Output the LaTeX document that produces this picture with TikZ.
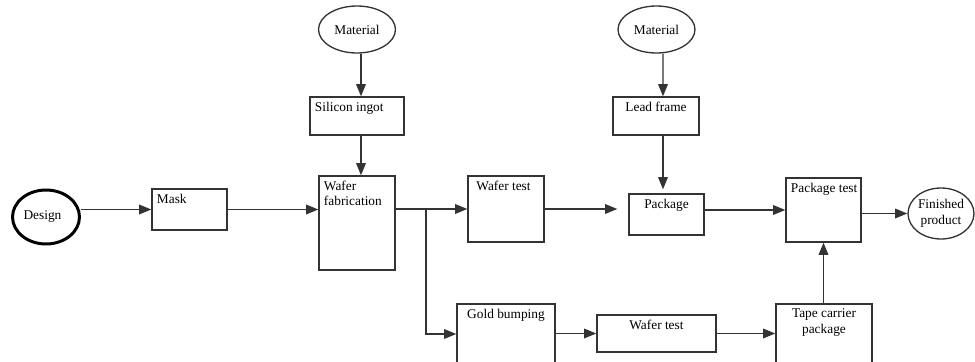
\documentclass[tikz,border=0pt]{standalone}
\usepackage{fontspec}
\setmainfont{Liberation Serif}
\usetikzlibrary{shapes.geometric,arrows.meta}

\tikzset{
    box/.style={draw=black!80, line width=0.75pt, rectangle, inner sep=0pt},
    oval/.style={draw=black!80, line width=0.75pt, ellipse, inner sep=0pt, align=center},
    tl/.style={label={[anchor=north west, align=left, inner sep=3pt]north west:#1}},
    tc/.style={label={[anchor=north, align=center, inner sep=3pt]north:#1}},
    arr/.style={draw=black!80, line width=0.8pt, -{Triangle[length=7pt,width=5.5pt]}},
    wire/.style={draw=black!80, line width=0.8pt}
}

\begin{document}
\begin{tikzpicture}[x=0.02cm, y=-0.02cm, font=\fontsize{7.6}{8.8}\selectfont]
    \useasboundingbox (0,0) rectangle (975,362);

    \node[oval, draw=black, line width=1.7pt, minimum width=1.34cm, minimum height=1.08cm] (design) at (46,217) {Design\hspace{4pt}};
    \node[oval, minimum width=1.54cm, minimum height=0.94cm] (mat1) at (357,29.5) {Material};
    \node[oval, minimum width=1.54cm, minimum height=0.94cm] (mat2) at (656.5,29.5) {Material};
    \node[oval, minimum width=1.32cm, minimum height=1.02cm] (fin) at (941,213.5) {Finished\\product};

    \node[box, minimum width=1.88cm, minimum height=0.76cm, tl={Silicon ingot}] (silicon) at (357,116) {};
    \node[box, minimum width=1.5cm, minimum height=0.82cm, tl={Mask}] (mask) at (189.5,209.5) {};
    \node[box, minimum width=1.52cm, minimum height=1.88cm, tl={Wafer\\fabrication}] (fab) at (357,223) {};
    \node[box, minimum width=1.52cm, minimum height=1.32cm, tl={\hspace{2pt}Wafer test}] (wtest) at (506,209) {};
    \node[box, minimum width=1.72cm, minimum height=0.76cm, tc={Lead frame}] (lead) at (656,116) {};
    \node[box, minimum width=1.5cm, minimum height=0.82cm, tc={Package}] (pkg) at (666.5,214.5) {};
    \node[box, minimum width=1.5cm, minimum height=1.28cm, tl={Package test}] (ptest) at (823.5,210) {};
    \node[box, minimum width=1.96cm, minimum height=1.2cm, tc={Gold bumping}] (gold) at (506,334) {};
    \node[box, minimum width=2.38cm, minimum height=0.74cm, tc={Wafer test}] (wtest2) at (656.5,333.5) {};
    \node[box, minimum width=1.92cm, minimum height=1.2cm, tc={Tape carrier\\package}] (tape) at (824,334) {};

    \coordinate (split) at (426,209);

    \draw[arr] ([xshift=0.08cm]mat1.south) -- ([xshift=0.08cm]silicon.north);
    \draw[arr] ([xshift=0.08cm]silicon.south) -- ([xshift=0.08cm]fab.north);
    \draw[arr] ([xshift=0.13cm]mat2.south) -- ([xshift=0.14cm]lead.north);
    \draw[arr, shorten >=0.08cm] ([xshift=0.14cm]lead.south) -- ([xshift=0.14cm]lead.south |- pkg.north);
    \draw[arr] (design.east |- mask.west) -- (mask.west);
    \draw[arr] (mask.east) -- (mask.east -| fab.west);
    \draw[wire] (fab.east |- split) -- (split);
    \draw[arr] (split) -- (wtest.west);
    \draw[arr] (split) |- (gold.west);
    \draw[arr, shorten >=0.22cm] (wtest.east) -- (wtest.east -| pkg.west);
    \draw[arr] (ptest.west -| pkg.east) -- (ptest.west);
    \draw[arr] (ptest.east |- fin.west) -- (fin.west);
    \draw[arr] (gold.east |- wtest2.west) -- (wtest2.west);
    \draw[arr] (wtest2.east) -- (wtest2.east -| tape.west);
    \draw[arr] (tape.north -| ptest.south) -- (ptest.south);
\end{tikzpicture}
\end{document}
